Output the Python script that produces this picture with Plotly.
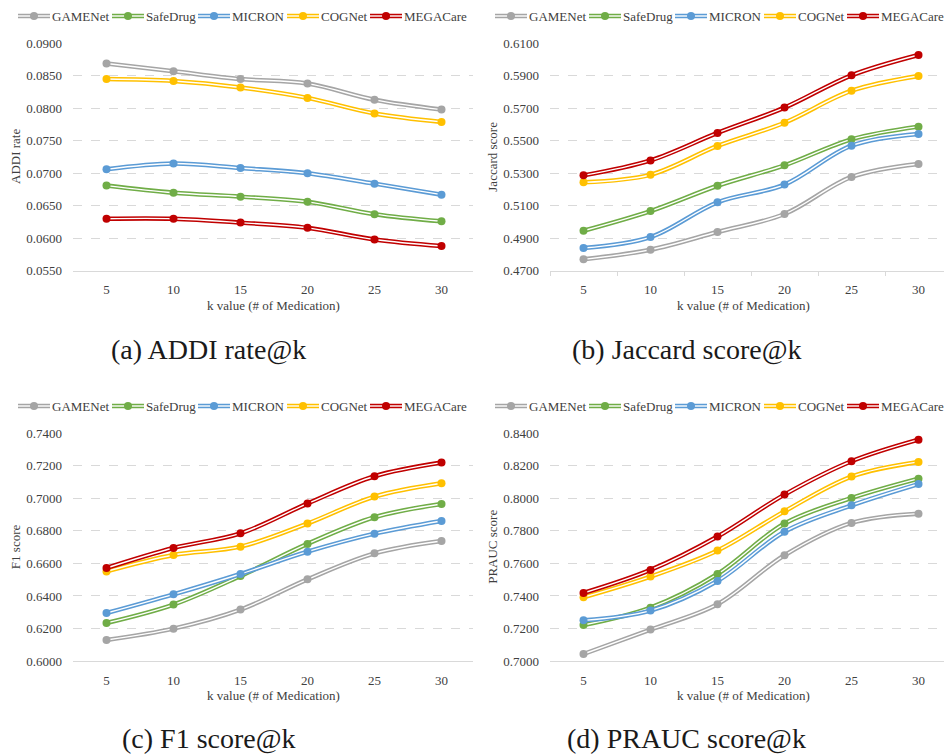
import plotly.graph_objects as go

k_values = [5, 10, 15, 20, 25, 30]
models = ["GAMENet", "SafeDrug", "MICRON", "COGNet", "MEGACare"]
colors = ["#A5A5A5", "#70AD47", "#5B9BD5", "#FFC000", "#C00000"]

addi_gamenet = [0.0869, 0.0857, 0.0845, 0.0838, 0.0813, 0.0798]
addi_safedrug = [0.0681, 0.0670, 0.0664, 0.0656, 0.0637, 0.0626]
addi_micron = [0.0706, 0.0715, 0.0708, 0.0700, 0.0684, 0.0667]
addi_cognet = [0.0845, 0.0842, 0.0832, 0.0816, 0.0792, 0.0779]
addi_megacare = [0.0630, 0.0630, 0.0624, 0.0616, 0.0598, 0.0588]

jac_gamenet = [0.4770, 0.4829, 0.4938, 0.5049, 0.5277, 0.5357]
jac_safedrug = [0.4946, 0.5067, 0.5223, 0.5349, 0.5509, 0.5587]
jac_micron = [0.4840, 0.4907, 0.5121, 0.5230, 0.5470, 0.5542]
jac_cognet = [0.5244, 0.5291, 0.5468, 0.5611, 0.5808, 0.5899]
jac_megacare = [0.5287, 0.5379, 0.5548, 0.5704, 0.5903, 0.6028]

f1_gamenet = [0.6129, 0.6199, 0.6316, 0.6502, 0.6662, 0.6738]
f1_safedrug = [0.6234, 0.6347, 0.6523, 0.6720, 0.6884, 0.6965]
f1_micron = [0.6295, 0.6410, 0.6535, 0.6672, 0.6783, 0.6861]
f1_cognet = [0.6551, 0.6652, 0.6703, 0.6845, 0.7011, 0.7093]
f1_megacare = [0.6572, 0.6695, 0.6785, 0.6968, 0.7136, 0.7220]

prauc_gamenet = [0.7043, 0.7193, 0.7349, 0.7650, 0.7849, 0.7906]
prauc_safedrug = [0.7221, 0.7328, 0.7535, 0.7845, 0.8002, 0.8121]
prauc_micron = [0.7250, 0.7310, 0.7492, 0.7795, 0.7957, 0.8088]
prauc_cognet = [0.7392, 0.7519, 0.7679, 0.7920, 0.8134, 0.8224]
prauc_megacare = [0.7418, 0.7560, 0.7765, 0.8023, 0.8228, 0.8361]

y_titles = ["ADDI rate", "Jaccard score", "F1 score", "PRAUC score"]
captions = ["(a) ADDI rate@k", "(b) Jaccard score@k", "(c) F1 score@k", "(d) PRAUC score@k"]
x_title = "k value (# of Medication)"
y_ranges = [(0.055, 0.090, 0.005), (0.47, 0.61, 0.02), (0.60, 0.74, 0.02), (0.70, 0.84, 0.02)]

panels = [
    [addi_gamenet, addi_safedrug, addi_micron, addi_cognet, addi_megacare],
    [jac_gamenet, jac_safedrug, jac_micron, jac_cognet, jac_megacare],
    [f1_gamenet, f1_safedrug, f1_micron, f1_cognet, f1_megacare],
    [prauc_gamenet, prauc_safedrug, prauc_micron, prauc_cognet, prauc_megacare],
]

W, H = 944, 754
FONT = "Liberation Serif"
TXT = "#404040"

# pixel layout of each plot area: (left, right, top, bottom)
boxes = [(73, 473, 43.3, 270.7), (550, 944, 43.3, 270.7),
         (73, 473, 433.3, 661), (550, 944, 433.3, 661)]
px_per_unit = 13.4
legend_offsets = [0, 94, 180, 269, 352]


def px(x):
    return x / W


def py(y):
    return 1 - y / H


fig = go.Figure()
annotations = []
shapes = []
layout = {}
for i, (series, box) in enumerate(zip(panels, boxes)):
    n = "" if i == 0 else str(i + 1)
    xa, ya = "x" + n, "y" + n
    for name, col, vals in zip(models, colors, series):
        fig.add_trace(go.Scatter(x=k_values, y=vals, xaxis=xa, yaxis=ya, name=name,
                                 mode="lines", line=dict(color=col, width=4.5, shape="spline", smoothing=1.0),
                                 showlegend=False))
        fig.add_trace(go.Scatter(x=k_values, y=vals, xaxis=xa, yaxis=ya, mode="lines", name=name,
                                 line=dict(color="white", width=1.4, shape="spline", smoothing=1.0),
                                 hoverinfo="skip", showlegend=False))
        fig.add_trace(go.Scatter(x=k_values, y=vals, xaxis=xa, yaxis=ya, mode="markers", name=name,
                                 marker=dict(size=8, color=col), showlegend=False))
    l, r, t, b = box
    left_col = l < 300
    top_row = t < 300
    lo, hi, step = y_ranges[i]
    nt = int(round((hi - lo) / step))
    tv = [lo + j * step for j in range(nt + 1)]
    layout["xaxis" + n] = dict(domain=[px(l), px(r)], anchor=ya,
                               range=[2.5, 2.5 + (r - l) / px_per_unit],
                               tickvals=k_values, ticktext=[str(k) for k in k_values],
                               showgrid=False, zeroline=False, showline=True, linecolor="#D9D9D9", linewidth=1,
                               ticks="", tickfont=dict(family=FONT, size=13, color=TXT), ticklabelstandoff=7)
    if i == 1:
        layout["xaxis" + n]["minor"] = dict(tickvals=[2.5 + 5 * j for j in range(6)], ticks="outside",
                                            ticklen=4, tickcolor="#D9D9D9", showgrid=False)
    layout["yaxis" + n] = dict(domain=[py(b), py(t)], anchor=xa, range=[lo, hi],
                               tickvals=tv, ticktext=[format(v, ".4f") for v in tv],
                               showgrid=True, gridcolor="#D9D9D9", griddash="dash", gridwidth=1,
                               zeroline=False, showline=False, ticks="",
                               tickfont=dict(family=FONT, size=13, color=TXT), ticklabelstandoff=10)

    # manual legend, Excel style (double line with dot)
    base = 18 if left_col else 495
    ly = 16 if top_row else 406
    for off, name, col in zip(legend_offsets, models, colors):
        x0 = base + off
        x1 = x0 + 32
        shapes.append(dict(type="line", xref="paper", yref="paper", x0=px(x0), x1=px(x1),
                           y0=py(ly), y1=py(ly), line=dict(color=col, width=4.5)))
        shapes.append(dict(type="line", xref="paper", yref="paper", x0=px(x0), x1=px(x1),
                           y0=py(ly), y1=py(ly), line=dict(color="white", width=1.4)))
        cx = (x0 + x1) / 2
        shapes.append(dict(type="circle", xref="paper", yref="paper", x0=px(cx - 4), x1=px(cx + 4),
                           y0=py(ly + 4), y1=py(ly - 4), fillcolor=col, line=dict(color=col, width=0)))
        annotations.append(dict(text=name, x=px(x1), y=py(ly), xref="paper", yref="paper",
                                showarrow=False, xanchor="left", yanchor="middle",
                                font=dict(family=FONT, size=13, color=TXT)))

    # axis titles
    annotations.append(dict(text=x_title, x=px(273 if left_col else 743),
                            y=py(305 if top_row else 695), xref="paper", yref="paper",
                            showarrow=False, font=dict(family=FONT, size=13, color=TXT),
                            xanchor="center", yanchor="middle"))
    annotations.append(dict(text=y_titles[i], x=px(15 if left_col else 491.7),
                            y=py((t + b) / 2), xref="paper", yref="paper", textangle=-90,
                            showarrow=False, font=dict(family=FONT, size=13, color=TXT),
                            xanchor="center", yanchor="middle"))
    annotations.append(dict(text=captions[i], x=px(208.5 if left_col else 686),
                            y=py(349 if top_row else 738), xref="paper", yref="paper",
                            showarrow=False, font=dict(family=FONT, size=28, color="#1a1a1a"),
                            xanchor="center", yanchor="middle"))

fig.update_layout(width=W, height=H, margin=dict(l=0, r=0, t=0, b=0, autoexpand=False),
                  paper_bgcolor="white", plot_bgcolor="white", showlegend=False,
                  annotations=annotations, shapes=shapes, **layout)
fig.write_html("out.html", config={"displayModeBar": False},
               post_script="document.body.style.margin='0';document.body.style.overflow='hidden';")
